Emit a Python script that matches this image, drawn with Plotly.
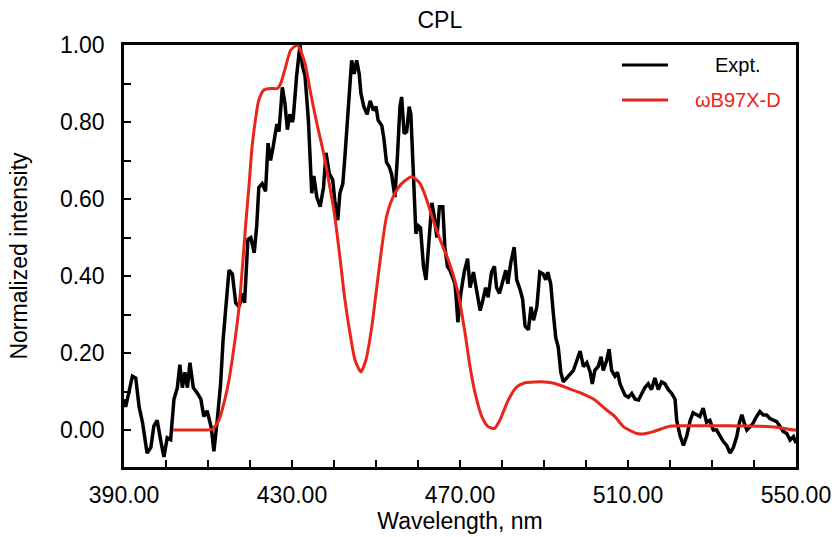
import plotly.graph_objects as go

# Experimental CPL spectrum (wavelength in nm, normalized intensity)
expt_wl = [390.0, 390.4, 392.0, 392.8, 393.6, 394.4, 395.5, 396.4, 397.1, 397.9, 398.7, 399.5,
           400.3, 401.1, 401.9, 402.7, 403.3, 403.9, 404.5, 405.1, 405.7, 406.5, 407.5, 408.3,
           409.0, 409.8, 410.8, 411.4, 412.2, 413.0, 413.6, 414.2, 415.0, 415.8, 416.6, 417.4,
           418.2, 418.7, 419.5, 420.2, 421.0, 421.6, 422.1, 422.9, 423.7, 424.3, 424.9, 425.5,
           426.4, 426.9, 427.7, 428.3, 428.9, 429.5, 430.1, 430.3, 431.1, 431.9, 432.5, 433.1,
           433.9, 434.7, 435.2, 435.9, 436.7, 437.5, 438.1, 438.9, 439.7, 440.2, 440.9, 441.4,
           442.1, 442.6, 443.2, 443.8, 444.2, 444.8, 445.4, 446.0, 446.4, 447.1, 447.9, 448.6,
           449.4, 450.0, 450.5, 451.4, 451.9, 452.5, 453.1, 453.7, 454.5, 455.1, 455.7, 456.1,
           456.7, 457.3, 457.9, 458.3, 458.9, 459.5, 460.1, 460.6, 461.3, 461.9, 462.5, 463.3,
           463.8, 464.5, 465.1, 465.9, 466.4, 467.0, 467.6, 468.4, 468.8, 469.0, 469.5, 470.2,
           471.0, 471.8, 472.4, 473.2, 474.0, 474.8, 475.5, 476.1, 476.7, 477.5, 478.2, 478.7,
           479.4, 480.2, 480.9, 481.4, 482.1, 482.9, 483.5, 484.3, 484.9, 485.5, 486.3, 486.9,
           487.5, 488.3, 489.0, 489.8, 490.4, 490.9, 491.6, 492.2, 492.8, 493.4, 494.0, 494.6,
           495.4, 496.2, 497.0, 497.8, 498.6, 499.4, 500.2, 501.0, 501.5, 502.1, 502.9, 503.6,
           504.1, 504.9, 505.5, 506.1, 506.9, 507.5, 508.1, 508.7, 509.3, 510.1, 510.9, 511.7,
           512.5, 513.3, 514.0, 514.8, 515.6, 516.4, 517.2, 518.0, 518.8, 519.6, 520.4, 521.2,
           521.6, 522.4, 523.2, 524.0, 524.8, 525.5, 526.4, 527.1, 527.9, 528.7, 529.5, 530.3,
           531.1, 531.9, 532.7, 533.5, 534.3, 535.1, 535.9, 536.5, 537.1, 537.7, 538.3, 539.0,
           539.8, 540.6, 541.4, 542.2, 543.0, 543.8, 544.6, 545.4, 546.2, 547.0, 547.8, 548.6,
           549.4, 550.0]
expt_int = [0.08, 0.06, 0.14, 0.135, 0.06, 0.02, -0.06, -0.045, 0.01, 0.025, -0.025, -0.07,
            -0.02, -0.025, 0.08, 0.11, 0.17, 0.11, 0.15, 0.11, 0.175, 0.11, 0.095, 0.08,
            0.035, 0.05, 0.005, -0.055, 0.025, 0.12, 0.235, 0.32, 0.415, 0.405, 0.33, 0.32,
            0.355, 0.33, 0.495, 0.50, 0.46, 0.53, 0.63, 0.64, 0.62, 0.745, 0.70, 0.735,
            0.795, 0.775, 0.89, 0.85, 0.78, 0.82, 0.80, 0.81, 0.92, 1.0, 0.945, 0.92,
            0.805, 0.615, 0.66, 0.605, 0.58, 0.63, 0.72, 0.665, 0.65, 0.595, 0.545, 0.615,
            0.64, 0.71, 0.795, 0.885, 0.96, 0.925, 0.96, 0.925, 0.875, 0.84, 0.82, 0.855,
            0.83, 0.84, 0.805, 0.79, 0.755, 0.695, 0.685, 0.665, 0.605, 0.71, 0.84, 0.865,
            0.77, 0.775, 0.84, 0.82, 0.665, 0.51, 0.53, 0.525, 0.425, 0.39, 0.475, 0.59,
            0.56, 0.50, 0.58, 0.58, 0.475, 0.425, 0.415, 0.39, 0.38, 0.355, 0.28, 0.355,
            0.41, 0.445, 0.37, 0.41, 0.355, 0.31, 0.34, 0.37, 0.345, 0.41, 0.425, 0.37,
            0.355, 0.39, 0.415, 0.38, 0.435, 0.475, 0.39, 0.365, 0.34, 0.27, 0.26, 0.32,
            0.285, 0.32, 0.41, 0.405, 0.39, 0.41, 0.38, 0.305, 0.24, 0.215, 0.15, 0.125,
            0.135, 0.145, 0.155, 0.18, 0.205, 0.165, 0.175, 0.15, 0.12, 0.155, 0.165, 0.19,
            0.155, 0.18, 0.21, 0.155, 0.14, 0.15, 0.12, 0.105, 0.09, 0.085, 0.095, 0.08,
            0.078, 0.095, 0.11, 0.12, 0.105, 0.135, 0.105, 0.125, 0.12, 0.105, 0.095, 0.08,
            0.025, -0.015, -0.04, -0.015, 0.025, 0.045, 0.04, 0.035, 0.057, 0.02, 0.025, 0.0,
            0.0, -0.015, -0.03, -0.04, -0.06, -0.045, -0.017, 0.018, 0.04, 0.018, 0.0, 0.008,
            0.018, 0.035, 0.048, 0.039, 0.039, 0.03, 0.026, 0.022, 0.009, -0.004, -0.009, -0.026,
            -0.017, -0.034]

# Simulated spectrum (wB97X-D)
calc_wl = [401.7, 405.0, 408.0, 411.0, 412.6, 413.8, 415.0, 416.2, 417.4, 418.2, 419.0, 419.8,
           420.5, 421.4, 422.1, 423.3, 424.9, 426.5, 427.3, 428.5, 429.7, 431.3, 433.1, 434.3,
           435.9, 437.5, 439.0, 440.2, 441.4, 442.6, 443.8, 445.0, 446.4, 447.6, 449.0, 450.2,
           451.4, 452.5, 454.1, 456.1, 458.5, 460.5, 462.1, 463.6, 465.6, 467.2, 469.2, 470.0,
           471.2, 472.4, 473.6, 475.2, 476.7, 478.2, 479.5, 481.5, 483.5, 485.5, 487.9, 490.2,
           492.6, 495.8, 499.0, 502.1, 504.9, 506.9, 508.9, 512.1, 513.6, 516.0, 520.0, 525.5,
           533.5, 541.4, 545.4, 549.4, 550.0]
calc_int = [0.0, 0.0, 0.0, 0.002, 0.026, 0.07, 0.13, 0.216, 0.32, 0.424, 0.537, 0.64,
            0.736, 0.814, 0.857, 0.883, 0.887, 0.887, 0.90, 0.944, 0.987, 1.0, 0.952, 0.883,
            0.797, 0.72, 0.632, 0.554, 0.45, 0.338, 0.252, 0.182, 0.151, 0.182, 0.268, 0.372,
            0.476, 0.554, 0.606, 0.64, 0.658, 0.64, 0.597, 0.545, 0.485, 0.442, 0.372, 0.33,
            0.252, 0.164, 0.096, 0.035, 0.009, 0.004, 0.026, 0.078, 0.112, 0.123, 0.125, 0.125,
            0.121, 0.108, 0.095, 0.078, 0.052, 0.035, 0.009, -0.009, -0.01, -0.004, 0.01, 0.011,
            0.011, 0.01, 0.007, 0.0, 0.0]

x_ticks = [390, 430, 470, 510, 550]
y_ticks = [0.0, 0.2, 0.4, 0.6, 0.8, 1.0]

expt_name = "Expt."
calc_name = "ωB97X-D"
black = "#000000"
red = "#e8261c"
font_family = "Liberation Sans, Arial, Helvetica, sans-serif"
label_size = 23

fig = go.Figure()
fig.add_trace(go.Scatter(x=expt_wl, y=expt_int, mode="lines", name=expt_name,
                         line=dict(color=black, width=3.5), showlegend=False))
fig.add_trace(go.Scatter(x=calc_wl, y=calc_int, mode="lines", name=calc_name,
                         line=dict(color=red, width=3, shape="spline", smoothing=0.6),
                         showlegend=False))

# Legend drawn inside the upper-right corner of the axes
legend_rows = [(expt_name, black, 0.9526), (calc_name, red, 0.8697)]
for label, color, yy in legend_rows:
    fig.add_shape(type="line", xref="paper", yref="paper", x0=0.741, x1=0.8095, y0=yy, y1=yy,
                  line=dict(color=color, width=3))
    fig.add_annotation(xref="paper", yref="paper", x=0.9135, y=yy, text=label, showarrow=False,
                       xanchor="center", yanchor="middle",
                       font=dict(family=font_family, size=20, color=color))

axis_common = dict(showline=True, linecolor=black, linewidth=2.5, mirror=True,
                   ticks="inside", ticklen=7, tickwidth=2, tickcolor=black,
                   showgrid=False, zeroline=False, automargin=False,
                   tickfont=dict(family=font_family, size=label_size, color=black))

fig.update_xaxes(range=[390, 550], tickvals=x_ticks, tickformat=".2f",
                 minor=dict(dtick=10, tick0=390, ticks="inside", ticklen=7, tickwidth=2,
                            tickcolor=black, showgrid=False),
                 title=dict(text="Wavelength, nm", standoff=6,
                            font=dict(family=font_family, size=label_size, color=black)),
                 ticklabelstandoff=6, **axis_common)
fig.update_yaxes(range=[-0.096, 1.0], tickvals=y_ticks, tickformat=".2f",
                 minor=dict(dtick=0.1, tick0=0, ticks="inside", ticklen=7, tickwidth=2,
                            tickcolor=black, showgrid=False),
                 title=dict(text="Normalized intensity", standoff=26,
                            font=dict(family=font_family, size=label_size, color=black)),
                 ticklabelstandoff=12, **axis_common)

fig.update_layout(
    width=835, height=537,
    margin=dict(l=124, r=39, t=45, b=70),
    paper_bgcolor="white", plot_bgcolor="white",
    title=dict(text="CPL", x=0.47, xref="paper", xanchor="center",
               y=1 - 20 / 537, yref="container", yanchor="middle",
               font=dict(family=font_family, size=label_size, color=black)),
)

fig.write_html("out.html")
